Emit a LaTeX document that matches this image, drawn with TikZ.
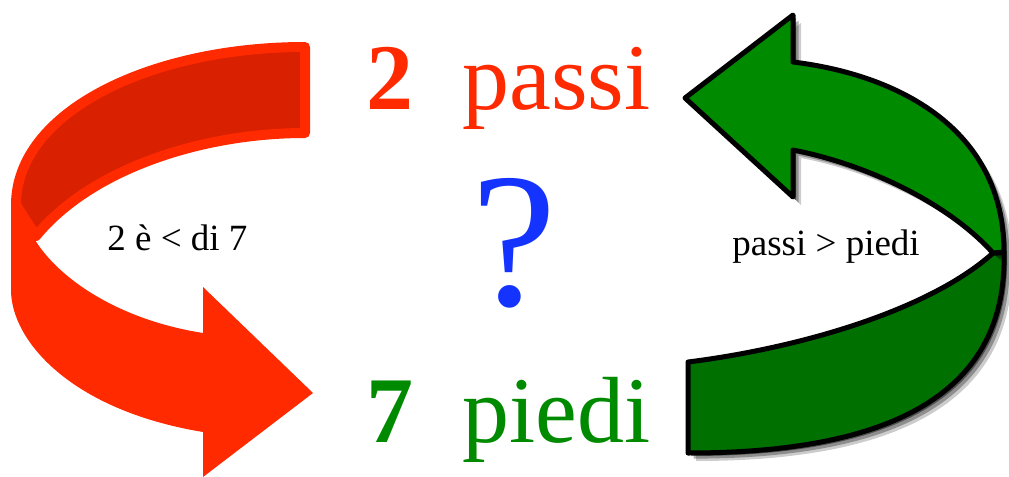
\documentclass[tikz,border=0pt]{standalone}
\usepackage{fontspec}
\setmainfont{Liberation Serif}
\usepackage{tikz}
\usetikzlibrary{shadows}
\usepackage{xcolor}
\definecolor{redfront}{HTML}{FF2A00}
\definecolor{redback}{HTML}{D92000}
\definecolor{greenfront}{HTML}{008A00}
\definecolor{greenback}{HTML}{007000}
\definecolor{qblue}{HTML}{1433FF}
\tikzstyle{redband} = [fill=redback, draw=redfront, line width=5pt, line join=round]
\tikzstyle{redarrow} = [fill=redfront]
\tikzstyle{greenband} = [draw=black, line width=2.5pt, line join=round,
    drop shadow={shadow xshift=4pt, shadow yshift=-4pt, fill=black, opacity=0.2},
    drop shadow={shadow xshift=2.8pt, shadow yshift=-2.8pt, fill=black, opacity=0.3},
    drop shadow={shadow xshift=1.5pt, shadow yshift=-1.5pt, fill=black, opacity=0.45}]
\tikzstyle{bigword} = [anchor=base west, inner sep=0pt, font=\fontsize{47}{50}\selectfont]
\tikzstyle{smallword} = [anchor=base west, inner sep=0pt, font=\fontsize{18.5}{20}\selectfont]

\begin{document}
\begin{tikzpicture}[x=0.5pt, y=-0.5pt]
\useasboundingbox (0,0) rectangle (1009,477);
% red arrow, back then front
\draw[redband] (305,47) .. controls (150,47) and (16,112) .. (16,205)
    -- (36,236) .. controls (90,170) and (200,133) .. (305,133) -- cycle;
\fill[redarrow] (11,200) -- (11,290) .. controls (11,340) and (70,410) .. (203,432)
    -- (203,477) -- (313,393) -- (203,287) -- (203,333)
    .. controls (120,320) and (60,280) .. (35,240) -- cycle;
% green arrow, back then front
\filldraw[greenband, fill=greenback] (688,362) .. controls (800,348) and (930,310) .. (993,253)
    -- (1004,252) .. controls (1008,400) and (880,453) .. (688,453) -- cycle;
\filldraw[greenband, fill=greenfront] (685,98) -- (793,15) -- (793,62)
    .. controls (900,75) and (1004,130) .. (1004,252) -- (993,253)
    .. controls (950,205) and (870,165) .. (793,150) -- (793,197) -- cycle;
% texts
\node[bigword, text=redfront] (passi) at (366,109) {\textbf{2}\hspace{0.52em}passi};
\node[bigword, text=greenfront] (piedi) at (366,442) {\textbf{7}\hspace{0.52em}piedi};
\node[anchor=base, inner sep=0pt, text=qblue, font=\fontsize{96}{100}\selectfont] (quest) at (514,305) {?};
\node[smallword] (lessthan) at (107,250) {2 è < di 7};
\node[smallword] (morethan) at (732,255) {passi > piedi};
\end{tikzpicture}
\end{document}
